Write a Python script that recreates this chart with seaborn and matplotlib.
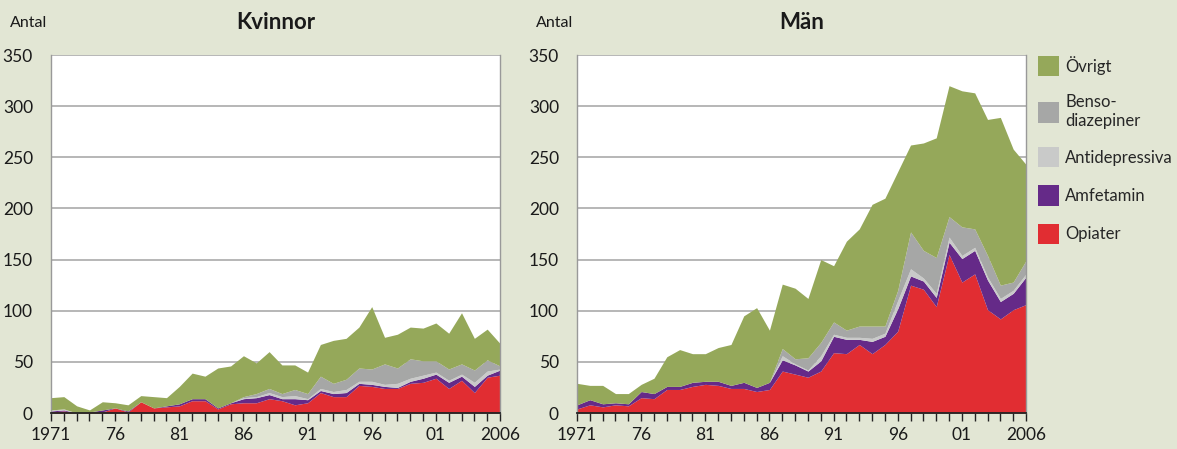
import numpy as np
import matplotlib
matplotlib.use("Agg")
import matplotlib.pyplot as plt
import seaborn as sns

# Data: dödsfall per år, uppdelat på preparat
years = list(range(1971, 2007))
series_names = ["Opiater", "Amfetamin", "Antidepressiva", "Benso-\ndiazepiner", "Övrigt"]

kv_opiater = [1, 2, 0, 1, 1, 5, 1, 11, 5, 6, 7, 12, 12, 4, 9, 10, 10, 14, 12, 8,
              10, 20, 16, 16, 27, 26, 24, 24, 29, 30, 34, 24, 32, 20, 35, 37]
kv_amfetamin = [1, 1, 0, 0, 2, 0, 1, 0, 0, 1, 2, 2, 2, 1, 1, 4, 5, 4, 2, 6,
                3, 2, 3, 4, 2, 2, 2, 1, 2, 4, 4, 6, 4, 6, 2, 5]
kv_antidep = [1, 1, 0, 0, 0, 0, 0, 0, 0, 0, 0, 0, 0, 0, 0, 1, 1, 2, 2, 3,
              1, 2, 2, 3, 2, 3, 2, 4, 3, 3, 2, 2, 2, 4, 4, 1]
kv_benso = [0, 0, 0, 0, 0, 0, 0, 0, 0, 0, 0, 0, 0, 0, 0, 1, 3, 4, 3, 6,
            5, 12, 8, 10, 13, 12, 20, 15, 19, 14, 11, 11, 10, 12, 11, 3]
kv_ovrigt = [12, 12, 7, 2, 8, 5, 6, 6, 11, 8, 17, 25, 22, 39, 36, 40, 30, 36, 28, 24,
             21, 31, 42, 40, 40, 61, 26, 33, 31, 32, 37, 35, 50, 31, 30, 22]

man_opiater = [4, 8, 6, 8, 7, 15, 14, 23, 23, 26, 28, 27, 24, 24, 21, 23, 41, 38, 35, 41,
               59, 58, 67, 58, 67, 80, 125, 121, 104, 155, 128, 136, 101, 92, 101, 106]
man_amfetamin = [4, 5, 3, 2, 2, 6, 5, 3, 3, 4, 3, 4, 3, 6, 4, 7, 11, 9, 6, 10,
                 16, 14, 5, 12, 8, 22, 9, 8, 9, 12, 23, 23, 29, 17, 16, 27]
man_antidep = [0, 0, 0, 0, 0, 0, 0, 0, 0, 0, 0, 0, 0, 0, 0, 0, 4, 1, 1, 5,
               2, 2, 2, 3, 3, 8, 7, 3, 4, 5, 3, 3, 3, 3, 3, 3]
man_benso = [0, 0, 0, 0, 0, 0, 0, 0, 0, 0, 0, 0, 0, 0, 0, 0, 7, 5, 12, 13,
             12, 7, 11, 12, 7, 10, 36, 27, 35, 20, 28, 18, 21, 13, 8, 13]
man_ovrigt = [21, 14, 18, 9, 10, 7, 15, 29, 36, 28, 27, 33, 40, 65, 78, 51, 63, 69, 58, 81,
              55, 87, 95, 119, 125, 116, 85, 105, 117, 128, 133, 133, 133, 164, 130, 94]

major_ticks = [1971, 1976, 1981, 1986, 1991, 1996, 2001, 2006]
major_labels = ["1971", "76", "81", "86", "91", "96", "01", "2006"]
y_ticks = [0, 50, 100, 150, 200, 250, 300, 350]

colors = ["#e12d32", "#652a88", "#c9cac9", "#a6a7a6", "#95a85a"]
bg = "#e2e6d4"

sns.set_theme(style="white")
plt.rcParams["font.family"] = ["Lato", "DejaVu Sans"]

fig = plt.figure(figsize=(11.77, 4.49), dpi=100, facecolor=bg)
ax1 = fig.add_axes([51 / 1177, 36 / 449, 449 / 1177, 358 / 449])
ax2 = fig.add_axes([577 / 1177, 36 / 449, 449 / 1177, 358 / 449])

panels = [
    (ax1, "Kvinnor", [kv_opiater, kv_amfetamin, kv_antidep, kv_benso, kv_ovrigt]),
    (ax2, "Män", [man_opiater, man_amfetamin, man_antidep, man_benso, man_ovrigt]),
]

for ax, title, data in panels:
    ax.set_facecolor("white")
    polys = ax.stackplot(years, *data, colors=colors, labels=series_names,
                         linewidth=0, zorder=2)
    ax.set_xlim(1971, 2006)
    ax.set_ylim(0, 350)
    ax.set_yticks(y_ticks)
    ax.set_yticklabels([str(v) for v in y_ticks], fontsize=12.5, color="#1a1a1a")
    ax.set_xticks(major_ticks)
    ax.set_xticklabels(major_labels, fontsize=12.5, color="#1a1a1a")
    ax.set_xticks(years, minor=True)
    ax.tick_params(axis="x", which="both", direction="out", length=6,
                   width=1, color="#222222", pad=4, bottom=True)
    ax.tick_params(axis="y", length=0, pad=13)
    ax.yaxis.grid(True, color="#aaaaaa", linewidth=1.2, zorder=1)
    ax.set_axisbelow(True)
    for side in ["left", "right"]:
        ax.spines[side].set_color("#999999")
        ax.spines[side].set_linewidth(1.0)
    ax.spines["top"].set_visible(False)
    ax.spines["bottom"].set_color("#222222")
    ax.spines["bottom"].set_linewidth(1.3)
    ax.spines["bottom"].set_zorder(5)
    ax.set_title(title, fontsize=16, fontweight="bold", pad=19, color="#1a1a1a")
    ax.text(-0.092, 1.09, "Antal", transform=ax.transAxes, fontsize=11.5,
            ha="left", va="center", color="#1a1a1a")

handles = polys[::-1]
labels = series_names[::-1]
fig.legend(handles, labels, loc="upper left", bbox_to_anchor=(1031 / 1177, 1 - 49 / 449),
           frameon=False, fontsize=12, handlelength=1.3, handleheight=1.5,
           handletextpad=0.35, labelspacing=1.08, borderaxespad=0)

fig.savefig("out.png", dpi=100, facecolor=bg)
